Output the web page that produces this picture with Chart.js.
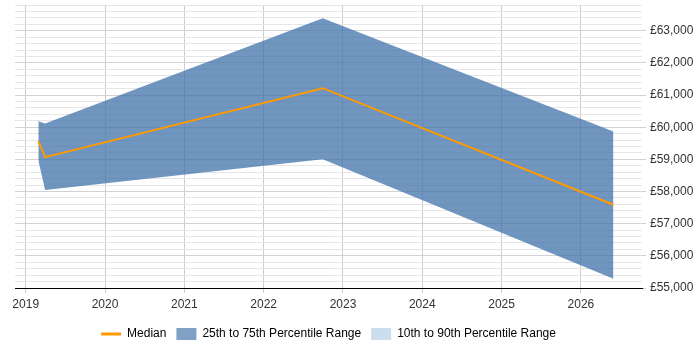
<!DOCTYPE html>
<html>
<head>
<meta charset="utf-8">
<script src="https://cdn.jsdelivr.net/npm/chart.js@4/dist/chart.umd.min.js"></script>
<style>
html,body{margin:0;padding:0;background:#fff;}
#wrap{width:700px;height:350px;}
</style>
</head>
<body>
<div id="wrap"><canvas id="grafico"></canvas></div>
<script>
// dados
let anos=[2019.159,2019.245,2022.745,2026.41];
let mediana=[59567,59070,61213,57590];
let p75=[60188,60117,63388,59870];
let p25=[58976,58044,59007,55290];
let anosTicks=[2019,2020,2021,2022,2023,2024,2025,2026];

const azul="rgba(64,115,171,0.75)";
const laranja="#FF9900";

function pontos(vals){
return vals.map((v,i)=>({x:anos[i],y:v}));
}

Chart.defaults.font.family="'Liberation Sans', Arial, sans-serif";
Chart.defaults.font.size=12;
Chart.defaults.color="#333";

new Chart(document.getElementById("grafico"),{
type:"line",
data:{
datasets:[
{
label:"Median",
data:pontos(mediana),
borderColor:laranja,
borderWidth:2,
pointRadius:0,
fill:false,
tension:0
},
{
label:"25th to 75th Percentile Range",
data:pontos(p75),
borderColor:"rgba(0,0,0,0)",
borderWidth:0,
backgroundColor:azul,
pointRadius:0,
fill:"+1",
tension:0
},
{
label:"p25",
data:pontos(p25),
borderColor:"rgba(0,0,0,0)",
borderWidth:0,
pointRadius:0,
fill:false,
tension:0
}
]
},
options:{
responsive:true,
maintainAspectRatio:false,
animation:false,
layout:{padding:{left:15,top:5,right:0,bottom:0}},
plugins:{
tooltip:{enabled:false},
legend:{
position:"bottom",
fullSize:false,
labels:{
usePointStyle:true,
pointStyleWidth:20,
boxHeight:12,
padding:10,
generateLabels:()=>[
{text:"Median",pointStyle:"line",strokeStyle:laranja,fillStyle:laranja,lineWidth:3,datasetIndex:0},
{text:"25th to 75th Percentile Range",pointStyle:"rect",fillStyle:"rgb(128,160,198)",strokeStyle:"rgb(128,160,198)",lineWidth:0,datasetIndex:1},
{text:"10th to 90th Percentile Range",pointStyle:"rect",fillStyle:"rgb(204,221,238)",strokeStyle:"rgb(204,221,238)",lineWidth:0,datasetIndex:2}
]
}
}
},
scales:{
x:{
type:"linear",
min:2018.865,
max:2026.77,
afterBuildTicks:s=>{s.ticks=anosTicks.map(v=>({value:v}));},
afterFit:s=>{s.height=30;s.paddingLeft=0;s.paddingRight=0;},
grid:{color:"#cccccc",tickLength:5,tickColor:"#cccccc"},
border:{color:"#000",width:1},
ticks:{padding:4,maxRotation:0,callback:v=>String(v)}
},
y:{
position:"right",
min:55000,
max:63800,
afterFit:s=>{s.width=58;s.paddingTop=0;s.paddingBottom=0;},
grid:{
color:c=>c.tick && c.tick.value%1000===0?"#d2d2d2":"#e6e6e6",
tickColor:c=>c.tick && c.tick.value%1000===0?"#d2d2d2":"rgba(0,0,0,0)",
tickLength:4
},
border:{display:false},
ticks:{
stepSize:200,
autoSkip:false,
padding:4,
callback:v=>v%1000===0?"£"+v.toLocaleString("en-GB"):""
}
}
}
}
});
</script>
</body>
</html>
